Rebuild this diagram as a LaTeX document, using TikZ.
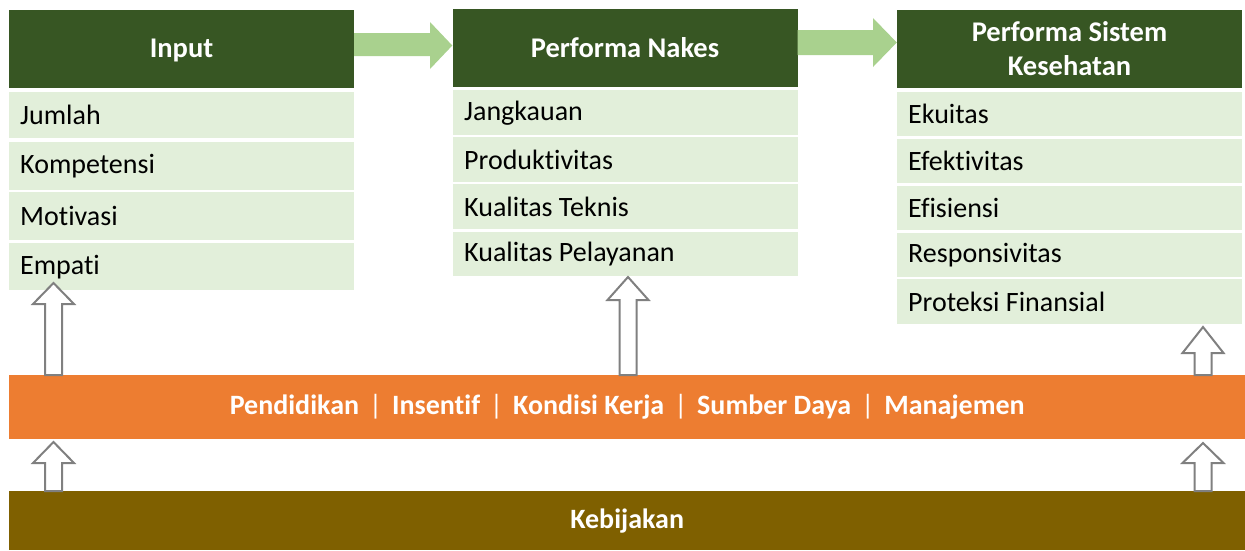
\documentclass[tikz,border=0pt]{standalone}
\usepackage{fontspec}
\setmainfont{Carlito}[Ligatures={NoCommon,NoRare}]
\usetikzlibrary{calc}

\definecolor{hdgreen}{HTML}{375623}
\definecolor{rowgreen}{HTML}{E2EFDA}
\definecolor{flowgreen}{HTML}{A9D18E}
\definecolor{bandorange}{HTML}{ED7D31}
\definecolor{bandbrown}{HTML}{7F6000}
\definecolor{liftgray}{HTML}{808080}

\tikzset{
  header/.style={fill=hdgreen, text=white, minimum width=345pt, minimum height=78pt,
    inner sep=0pt, align=center, font=\fontsize{28.5}{34}\selectfont\bfseries},
  row/.style={fill=rowgreen, text=black, anchor=north west, minimum width=345pt,
    inner xsep=11pt, inner ysep=0pt, text width=323pt, align=flush left,
    font=\fontsize{28}{32}\selectfont},
  band/.style={anchor=north west, minimum width=1236pt, inner sep=0pt, text=white,
    font=\fontsize{28}{32}\selectfont\bfseries},
  flow/.style={fill=flowgreen, draw=none},
  lift/.style={draw=liftgray, line width=2pt, fill=white, line join=miter},
}

% hollow upward arrow: x centre, bottom y, tip y, head height
\newcommand\liftarrow[4]{%
  \draw[lift] (#1-8.5,#2) -- (#1-8.5,#3+#4) -- (#1-20.5,#3+#4) -- (#1,#3)
    -- (#1+20.5,#3+#4) -- (#1+8.5,#3+#4) -- (#1+8.5,#2) -- cycle;}

\newcommand\barsep{\hspace{0.36em}{\mdseries|}\hspace{0.36em}}

\begin{document}
\begin{tikzpicture}[x=1pt,y=-1pt]
  \useasboundingbox (0,0) rectangle (1245,550);

  % column headers
  \node[header, text depth=0pt] (hin) at (181.5,48.5) {Input};
  \node[header] (hnak) at (625,47.5)   {Performa Nakes};
  \node[header] (hsys) at (1069.5,48.5) {Performa Sistem\\Kesehatan};

  % Input rows
  \node[row, minimum height=46pt] (r11) at (9,92)  {Jumlah};
  \node[row, minimum height=48pt] (r12) at (9,142) {Kompetensi};
  \node[row, minimum height=48pt] (r13) at (9,192) {Motivasi};
  \node[row, minimum height=47pt] (r14) at (9,243) {Empati};

  % Performa Nakes rows
  \node[row, minimum height=45pt] (r21) at (453,90)  {Jangkauan};
  \node[row, minimum height=45pt] (r22) at (453,137) {Produktivitas};
  \node[row, minimum height=45pt] (r23) at (453,184) {Kualitas Teknis};
  \node[row, minimum height=44pt] (r24) at (453,232) {Kualitas Pelayanan};

  % Performa Sistem Kesehatan rows
  \node[row, minimum height=44pt] (r31) at (897,92)  {Ekuitas};
  \node[row, minimum height=44pt] (r32) at (897,139) {Efektivitas};
  \node[row, minimum height=44pt] (r33) at (897,186) {Efisiensi};
  \node[row, minimum height=44pt] (r34) at (897,233) {Responsivitas};
  \node[row, minimum height=45pt] (r35) at (897,279) {Proteksi Finansial};

  % horizontal bands
  \node[band, fill=bandorange, minimum height=64pt] (levers) at (9,375)
    {Pendidikan\barsep Insentif\barsep Kondisi Kerja\barsep Sumber Daya\barsep Manajemen};
  \node[band, fill=bandbrown, minimum height=59pt] (policy) at (9,491) {Kebijakan};

  % flow arrows between headers
  \fill[flow] (hin.east |- 0,33) -- (430,33) -- (430,22) -- (hnak.west |- 0,45.5)
    -- (430,69) -- (430,56) -- (hin.east |- 0,56) -- cycle;
  \fill[flow] (hnak.east |- 0,30) -- (873,30) -- (873,18) -- (hsys.west |- 0,42.5)
    -- (873,67) -- (873,55) -- (hnak.east |- 0,55) -- cycle;

  % hollow upward arrows
  \liftarrow{53.5}{375}{283}{21}
  \liftarrow{628}{375}{277}{23}
  \liftarrow{1203}{375}{327}{26}
  \liftarrow{53.5}{491}{442}{21}
  \liftarrow{1203}{491}{443}{20}
\end{tikzpicture}
\end{document}
